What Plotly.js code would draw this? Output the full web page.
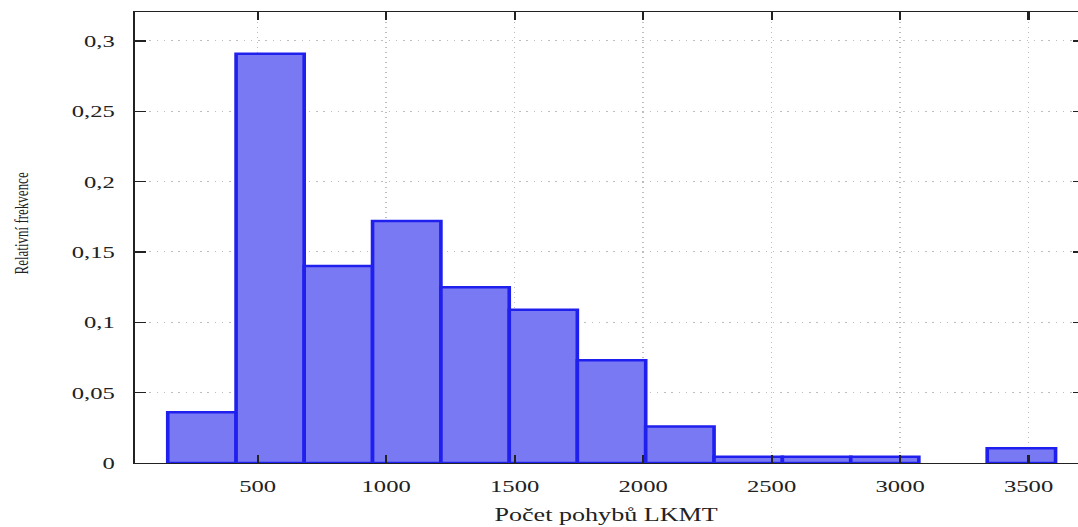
<!DOCTYPE html>
<html>
<head>
<meta charset="utf-8">
<script src="https://cdn.plot.ly/plotly-3.0.1.min.js"></script>
<style>
  html, body { margin: 0; padding: 0; overflow: hidden; background: #fff; width: 1078px; height: 527px; }
  #chart { width: 760px; height: 527px; transform: scaleX(1.45); transform-origin: 0 0; }
</style>
</head>
<body>
<div id="chart"></div>
<script>
// Histogram data
const binEdges = [150, 416, 681, 947, 1213, 1479, 1744, 2010, 2276, 2542, 2808, 3073, 3339, 3605];
const relFreq = [0.036, 0.291, 0.140, 0.172, 0.125, 0.109, 0.073, 0.026, 0.0045, 0.0045, 0.0045, 0, 0.0105];
const xTickVals = [500, 1000, 1500, 2000, 2500, 3000, 3500];
const xTickText = ['500', '1000', '1500', '2000', '2500', '3000', '3500'];
const yTickVals = [0, 0.05, 0.1, 0.15, 0.2, 0.25, 0.3];
const yTickText = ['0', '0,05', '0,1', '0,15', '0,2', '0,25', '0,3'];
const xTitle = 'Počet pohybů LKMT';
const yTitle = 'Relativní frekvence';

const centers = relFreq.map((_, i) => (binEdges[i] + binEdges[i + 1]) / 2);
const widths = relFreq.map((_, i) => binEdges[i + 1] - binEdges[i]);
// empty bins draw nothing
const heights = relFreq.map(v => (v > 0 ? v : null));

const serif = '"Liberation Serif", "Times New Roman", serif';

const trace = {
  type: 'bar',
  x: centers,
  y: heights,
  width: widths,
  marker: { color: '#7a79f4', line: { color: '#2020ee', width: 2.5 } },
  hoverinfo: 'x+y'
};

const axisCommon = {
  showline: true, linecolor: '#222', linewidth: 1.4, mirror: 'ticks',
  ticks: 'inside', ticklen: 8, tickwidth: 1.5, tickcolor: '#222',
  showgrid: true, gridcolor: '#bdbdbd', griddash: '1px,4px', gridwidth: 1,
  zeroline: false, tickfont: { family: serif, size: 17, color: '#222' }
};

const layout = {
  width: 760, height: 527,
  margin: { l: 93.4, r: 11.7, t: 12, b: 63.5 },
  paper_bgcolor: '#fff', plot_bgcolor: '#fff',
  showlegend: false,
  bargap: 0,
  xaxis: Object.assign({}, axisCommon, {
    range: [22, 3718], tickmode: 'array', tickvals: xTickVals, ticktext: xTickText,
    ticklabelstandoff: 7
  }),
  yaxis: Object.assign({}, axisCommon, {
    range: [0, 0.3206], tickmode: 'array', tickvals: yTickVals, ticktext: yTickText,
    ticklabelstandoff: 9
  }),
  annotations: [
    { text: xTitle, xref: 'paper', yref: 'paper', x: 0.4955, y: -0.116,
      xanchor: 'center', yanchor: 'middle', showarrow: false,
      font: { family: serif, size: 18, color: '#222' } },
    { text: yTitle, xref: 'paper', yref: 'paper', x: -0.12, y: 0.532,
      xanchor: 'center', yanchor: 'middle', showarrow: false, textangle: -90,
      font: { family: serif, size: 13, color: '#222' } }
  ]
};

Plotly.newPlot('chart', [trace], layout, { displayModeBar: false, staticPlot: true });
</script>
</body>
</html>
